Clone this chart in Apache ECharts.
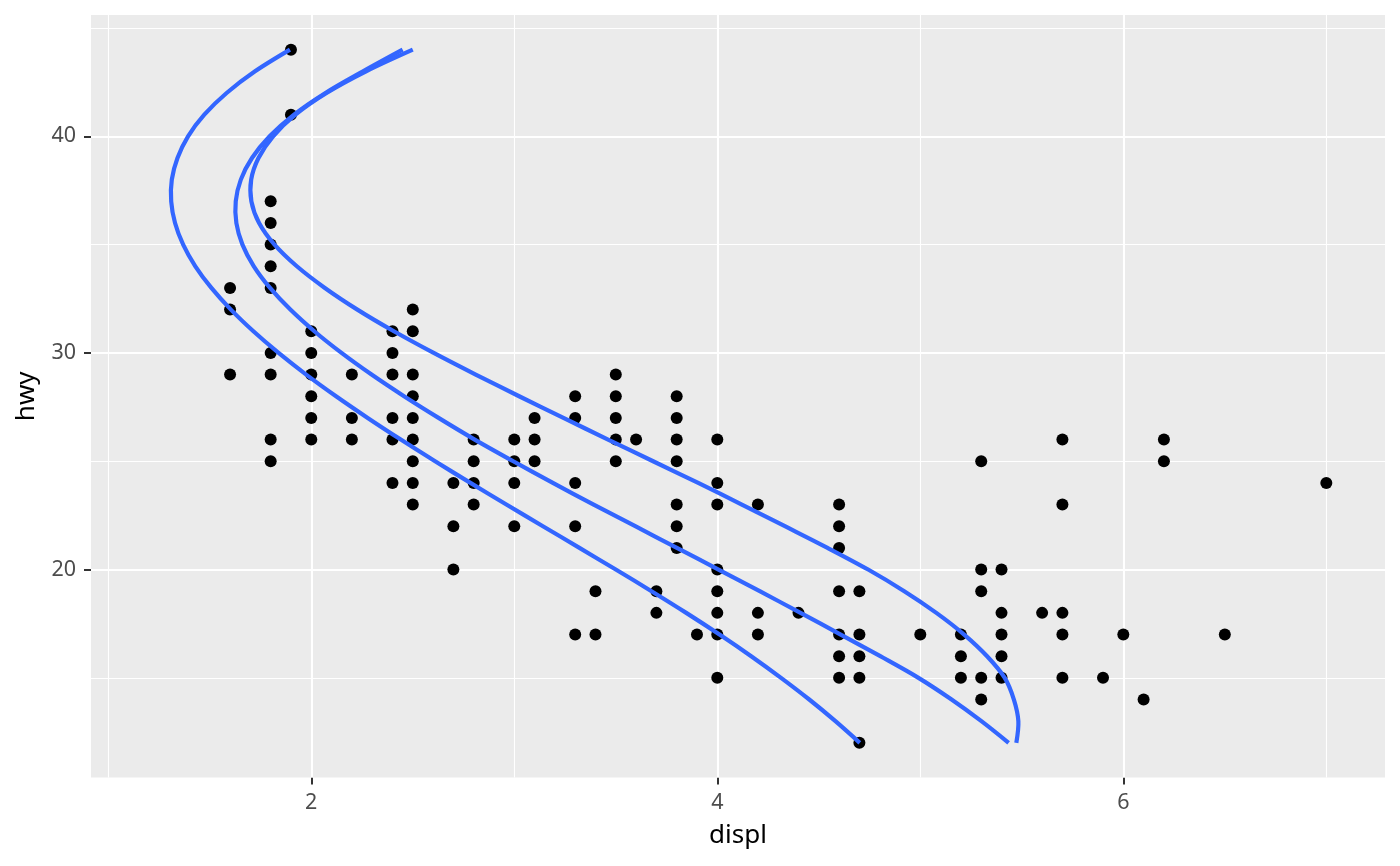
<!DOCTYPE html>
<html>
<head>
<meta charset="utf-8">
<script src="https://cdn.jsdelivr.net/npm/echarts@6/dist/echarts.min.js"></script>
<style>
html,body{margin:0;padding:0;background:#fff;}
#chart{width:1400px;height:866px;}
</style>
</head>
<body>
<div id="chart"></div>
<script>
// ---- data ----
const points = [
  [1.6,33],[1.6,32],[1.6,29],
  [1.8,37],[1.8,36],[1.8,35],[1.8,34],[1.8,33],[1.8,30],[1.8,29],[1.8,26],[1.8,25],
  [1.9,44],[1.9,41],
  [2.0,31],[2.0,30],[2.0,29],[2.0,28],[2.0,27],[2.0,26],
  [2.2,29],[2.2,27],[2.2,26],
  [2.4,31],[2.4,30],[2.4,29],[2.4,27],[2.4,26],[2.4,24],
  [2.5,32],[2.5,31],[2.5,29],[2.5,28],[2.5,27],[2.5,26],[2.5,25],[2.5,24],[2.5,23],
  [2.7,24],[2.7,22],[2.7,20],
  [2.8,26],[2.8,25],[2.8,24],[2.8,23],
  [3.0,26],[3.0,25],[3.0,24],[3.0,22],
  [3.1,27],[3.1,26],[3.1,25],
  [3.3,28],[3.3,27],[3.3,24],[3.3,22],[3.3,17],
  [3.4,19],[3.4,17],
  [3.5,29],[3.5,28],[3.5,27],[3.5,26],[3.5,25],
  [3.6,26],
  [3.7,19],[3.7,18],
  [3.8,28],[3.8,27],[3.8,26],[3.8,25],[3.8,23],[3.8,22],[3.8,21],
  [3.9,17],
  [4.0,26],[4.0,24],[4.0,23],[4.0,20],[4.0,19],[4.0,18],[4.0,17],[4.0,15],
  [4.2,23],[4.2,18],[4.2,17],
  [4.4,18],
  [4.6,23],[4.6,22],[4.6,21],[4.6,19],[4.6,17],[4.6,16],[4.6,15],
  [4.7,19],[4.7,17],[4.7,16],[4.7,15],[4.7,12],
  [5.0,17],
  [5.2,17],[5.2,16],[5.2,15],
  [5.3,25],[5.3,20],[5.3,19],[5.3,15],[5.3,14],
  [5.4,20],[5.4,18],[5.4,17],[5.4,16],[5.4,15],
  [5.6,18],
  [5.7,26],[5.7,23],[5.7,18],[5.7,17],[5.7,15],
  [5.9,15],[6.0,17],[6.1,14],[6.2,26],[6.2,25],[6.5,17],[7.0,24]
];

// quantile curves: displ read at each hwy level (44 down to 12)
const curveHwy = [44,43,42,41,40,39,38,37,36,35,34,33,32,31,30,29,28,27,26,25,24,23,22,21,20,19,18,17,16,15,14,13,12];
const lowX  = [1.895,1.723,1.583,1.473,1.393,1.341,1.313,1.310,1.329,1.369,1.429,1.508,1.604,1.715,1.839,1.975,2.122,2.278,2.441,2.610,2.784,2.961,3.141,3.321,3.500,3.676,3.847,4.011,4.167,4.314,4.453,4.582,4.702];
const midX  = [2.450,2.255,2.070,1.915,1.795,1.708,1.653,1.628,1.631,1.661,1.717,1.797,1.897,2.015,2.149,2.297,2.457,2.627,2.805,2.995,3.190,3.391,3.596,3.801,4.006,4.209,4.410,4.608,4.803,4.991,5.154,5.301,5.435];
const highX = [2.500,2.270,2.075,1.922,1.812,1.740,1.704,1.705,1.743,1.819,1.929,2.067,2.227,2.407,2.603,2.810,3.024,3.242,3.462,3.684,3.906,4.121,4.333,4.543,4.743,4.921,5.079,5.216,5.329,5.416,5.461,5.483,5.473];

const xMajor = [2, 4, 6];
const xMinor = [1, 3, 5, 7];
const yMajor = [20, 30, 40];
const yMinor = [15, 25, 35, 45];

// ---- chart ----
const pairs = (xs) => xs.map((x, i) => [x, curveHwy[i]]);
const gridLines = [];
xMinor.forEach(v => gridLines.push({xAxis: v, lineStyle: {width: 1.1}}));
yMinor.forEach(v => gridLines.push({yAxis: v, lineStyle: {width: 1.1}}));
xMajor.forEach(v => gridLines.push({xAxis: v, lineStyle: {width: 2.1}}));
yMajor.forEach(v => gridLines.push({yAxis: v, lineStyle: {width: 2.1}}));

const FONT = 'Noto Sans';
// smooth curve drawn through the axis scales (api.coord) as one path per series
const curveSeries = (d) => ({
  type: 'custom', data: d, z: 5, silent: true, clip: true,
  encode: {x: 0, y: 1},
  renderItem: (params, api) => {
    if (params.dataIndex !== 0) return null;
    const pts = d.map(p => api.coord(p));
    return {
      type: 'polyline',
      shape: {points: pts, smooth: 0.33},
      style: {stroke: '#3366FF', lineWidth: 4.2, fill: null, lineCap: 'butt', lineJoin: 'round'}
    };
  }
});

const chart = echarts.init(document.getElementById('chart'), null, {renderer: 'canvas'});
chart.setOption({
  animation: false,
  backgroundColor: '#FFFFFF',
  grid: {left: 91, right: 15, top: 15, bottom: 88.5, show: true, backgroundColor: '#EBEBEB', borderWidth: 0},
  xAxis: {
    type: 'value', min: 0.915, max: 7.289,
    name: 'displ', nameLocation: 'middle', nameGap: 45,
    nameTextStyle: {fontFamily: FONT, fontSize: 26, color: '#000'},
    axisLine: {show: false, onZero: false},
    axisTick: {show: true, customValues: xMajor, length: 7, lineStyle: {color: '#333333', width: 2}},
    axisLabel: {customValues: xMajor, fontFamily: FONT, fontSize: 21.5, color: '#4D4D4D', margin: 14},
    splitLine: {show: false}
  },
  yAxis: {
    type: 'value', min: 10.4, max: 45.6,
    name: 'hwy', nameLocation: 'middle', nameGap: 51, nameRotate: 90,
    nameTextStyle: {fontFamily: FONT, fontSize: 26, color: '#000'},
    axisLine: {show: false, onZero: false},
    axisTick: {show: true, customValues: yMajor, length: 7, lineStyle: {color: '#333333', width: 2}},
    axisLabel: {customValues: yMajor, fontFamily: FONT, fontSize: 21.5, color: '#4D4D4D', margin: 15},
    splitLine: {show: false}
  },
  series: [
    {
      type: 'scatter', data: points, symbolSize: 12, z: 3, silent: true,
      itemStyle: {color: '#000000', opacity: 1},
      markLine: {
        silent: true, symbol: 'none', z: 1, animation: false,
        label: {show: false},
        lineStyle: {color: '#FFFFFF', type: 'solid'},
        emphasis: {disabled: true},
        data: gridLines
      }
    },
    curveSeries(pairs(lowX)),
    curveSeries(pairs(midX)),
    curveSeries(pairs(highX))
  ]
});
</script>
</body>
</html>
